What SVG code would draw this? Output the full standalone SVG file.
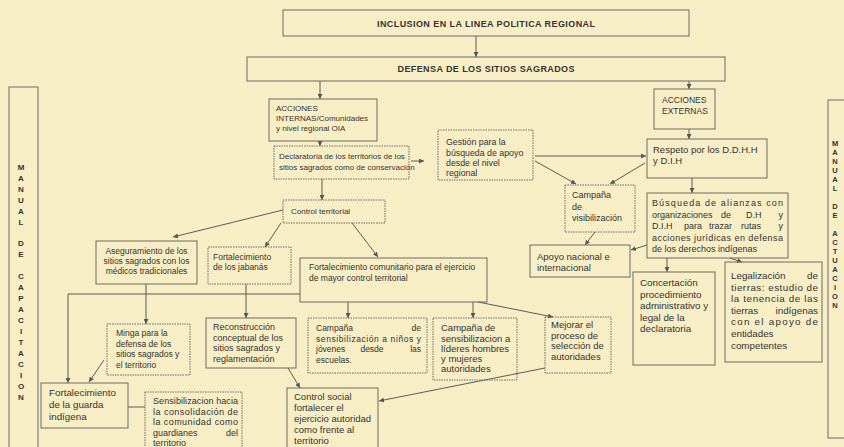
<svg xmlns="http://www.w3.org/2000/svg" width="844" height="447" viewBox="0 0 844 447">
<defs>
<style>
.t{font-family:"Liberation Sans",Arial,sans-serif;fill:#333}
.tb{font-weight:bold}
.s75{font-size:7.5px}.s8{font-size:8px}.s85{font-size:8.5px}.s88{font-size:8.8px}.s9{font-size:9px}.s95{font-size:9.5px}.s98{font-size:9.8px}
.bx{fill:none;stroke:#6a6a6a;stroke-width:1}
.dot{stroke-dasharray:1.5 1}
.c{fill:none;stroke:#5a5a5a;stroke-width:1}
.m{text-anchor:middle}
</style>
<marker id="ah" viewBox="0 0 8 8" refX="8" refY="4" markerWidth="5" markerHeight="5" orient="auto" markerUnits="userSpaceOnUse"><path d="M0,0 L8,4 L0,8 z" fill="#555"/></marker>
</defs>
<rect x="0" y="0" width="844" height="447" fill="#F8EEC6"/>

<g id="bar-left">
<rect class="bx" x="9" y="87" width="29" height="370"/>
<g class="t tb s8 m">
<text x="21" y="170">M</text><text x="21" y="181">A</text><text x="21" y="192">N</text><text x="21" y="203">U</text><text x="21" y="214">A</text><text x="21" y="225">L</text>
<text x="21" y="246">D</text><text x="21" y="257">E</text>
<text x="21" y="279">C</text><text x="21" y="290">A</text><text x="21" y="301">P</text><text x="21" y="312">A</text><text x="21" y="323">C</text><text x="21" y="334">I</text><text x="21" y="345">T</text><text x="21" y="356">A</text><text x="21" y="367">C</text><text x="21" y="378">I</text><text x="21" y="389">O</text><text x="21" y="400">N</text>
</g>
</g>

<g id="bar-right">
<rect class="bx" x="828" y="100" width="30" height="338"/>
<g class="t tb s75 m">
<text x="835" y="146">M</text><text x="835" y="155">A</text><text x="835" y="164">N</text><text x="835" y="173">U</text><text x="835" y="182">A</text><text x="835" y="191">L</text>
<text x="835" y="209">D</text><text x="835" y="218">E</text>
<text x="835" y="236">A</text><text x="835" y="245">C</text><text x="835" y="254">T</text><text x="835" y="263">U</text><text x="835" y="272">A</text><text x="835" y="281">C</text><text x="835" y="290">I</text><text x="835" y="299">O</text><text x="835" y="308">N</text>
</g>
</g>

<g id="connectors">
<line class="c" x1="476" y1="36" x2="476" y2="57" marker-end="url(#ah)"/>
<line class="c" x1="320" y1="81" x2="320" y2="99" marker-end="url(#ah)"/>
<line class="c" x1="689" y1="81" x2="689" y2="89" marker-end="url(#ah)"/>
<line class="c" x1="320" y1="141" x2="320" y2="146" marker-end="url(#ah)"/>
<line class="c" x1="411" y1="161" x2="424" y2="161" marker-end="url(#ah)"/>
<line class="c" x1="322" y1="179" x2="322" y2="200" marker-end="url(#ah)"/>
<line class="c" x1="689" y1="129" x2="689" y2="139" marker-end="url(#ah)"/>
<line class="c" x1="535" y1="156" x2="646" y2="156" marker-end="url(#ah)"/>
<line class="c" x1="535" y1="161" x2="576" y2="184" marker-end="url(#ah)"/>
<line class="c" x1="645" y1="163" x2="610" y2="184" marker-end="url(#ah)"/>
<line class="c" x1="692" y1="178" x2="692" y2="193" marker-end="url(#ah)"/>
<line class="c" x1="595" y1="232" x2="585" y2="245" marker-end="url(#ah)"/>
<line class="c" x1="647" y1="245" x2="631" y2="250" marker-end="url(#ah)"/>
<line class="c" x1="667" y1="258" x2="667" y2="272" marker-end="url(#ah)"/>
<line class="c" x1="730" y1="258" x2="742" y2="262" marker-end="url(#ah)"/>
<line class="c" x1="283" y1="210" x2="173" y2="237" marker-end="url(#ah)"/>
<line class="c" x1="281" y1="223" x2="265" y2="247" marker-end="url(#ah)"/>
<line class="c" x1="352" y1="223" x2="378" y2="257" marker-end="url(#ah)"/>
<line class="c" x1="146" y1="284" x2="146" y2="324" marker-end="url(#ah)"/>
<line class="c" x1="246" y1="284" x2="246" y2="318" marker-end="url(#ah)"/>
<polyline class="c" points="300,294 68,294 68,383" marker-end="url(#ah)"/>
<line class="c" x1="348" y1="302" x2="348" y2="318" marker-end="url(#ah)"/>
<line class="c" x1="473" y1="302" x2="473" y2="318" marker-end="url(#ah)"/>
<line class="c" x1="478" y1="302" x2="553" y2="317" marker-end="url(#ah)"/>
<line class="c" x1="104" y1="360" x2="89" y2="382" marker-end="url(#ah)"/>
<line class="c" x1="128" y1="407" x2="145" y2="407"/>
<line class="c" x1="288" y1="368" x2="300" y2="388" marker-end="url(#ah)"/>
<line class="c" x1="545" y1="368" x2="379" y2="401" marker-end="url(#ah)"/>
</g>

<g id="n-inclusion">
<rect class="bx" x="283" y="10" width="406" height="26"/>
<text class="t tb s9 m" x="486" y="26.5" textLength="218" lengthAdjust="spacing">INCLUSION EN LA LINEA POLITICA REGIONAL</text>
</g>
<g id="n-defensa">
<rect class="bx" x="247" y="57" width="478" height="24"/>
<text class="t tb s9 m" x="486" y="72" textLength="177" lengthAdjust="spacing">DEFENSA DE LOS SITIOS SAGRADOS</text>
</g>
<g id="n-internas">
<rect class="bx" x="269" y="99" width="108" height="42"/>
<text class="t s8" x="276" y="111">ACCIONES</text>
<text class="t s8" x="276" y="121">INTERNAS/Comunidades</text>
<text class="t s8" x="276" y="131">y nivel regional OIA</text>
</g>
<g id="n-externas">
<rect class="bx" x="654" y="89" width="61" height="40"/>
<text class="t s85" x="662" y="103">ACCIONES</text>
<text class="t s85" x="662" y="113.5">EXTERNAS</text>
</g>
<g id="n-respeto">
<rect class="bx" x="647" y="139" width="120" height="39"/>
<text class="t s95" x="653" y="153">Respeto por los D.D.H.H</text>
<text class="t s95" x="653" y="164">y D.I.H</text>
</g>
<g id="n-gestion">
<rect class="bx dot" x="438" y="130" width="95" height="50"/>
<text class="t s88" x="446" y="145">Gestión para la</text>
<text class="t s88" x="446" y="155.5">búsqueda de apoyo</text>
<text class="t s88" x="446" y="166">desde el nivel</text>
<text class="t s88" x="446" y="176">regional</text>
</g>
<g id="n-declaratoria">
<rect class="bx dot" x="274" y="146" width="135" height="33"/>
<text class="t s8" x="279" y="159">Declaratoria de los territorios de  los</text>
<text class="t s8" x="279" y="170">sitios sagrados como de conservación</text>
</g>
<g id="n-control">
<rect class="bx dot" x="283" y="200" width="102" height="23"/>
<text class="t s8" x="291" y="214">Control territorial</text>
</g>
<g id="n-visibilizacion">
<rect class="bx dot" x="565" y="185" width="70" height="47"/>
<text class="t s9" x="572" y="198">Campaña</text>
<text class="t s9" x="572" y="209.5">de</text>
<text class="t s9" x="572" y="221">visibilización</text>
</g>
<g id="n-busqueda">
<rect class="bx" x="647" y="193" width="141" height="65"/>
<text class="t s9" x="652" y="206" textLength="131" lengthAdjust="spacing">Búsqueda de alianzas con</text>
<text class="t s9" y="217.5"><tspan x="652">organizaciones</tspan><tspan x="721">de</tspan><tspan x="746">D.H</tspan><tspan x="783" text-anchor="end">y</tspan></text>
<text class="t s9" y="229"><tspan x="652">D.I.H</tspan><tspan x="684">para</tspan><tspan x="709">trazar</tspan><tspan x="741">rutas</tspan><tspan x="783" text-anchor="end">y</tspan></text>
<text class="t s9" x="652" y="240.5" textLength="131" lengthAdjust="spacing">acciones jurídicas en defensa</text>
<text class="t s9" x="652" y="252">de los derechos indígenas</text>
</g>
<g id="n-apoyo">
<rect class="bx" x="530" y="245" width="100" height="32"/>
<text class="t s95" x="537" y="260">Apoyo nacional  e</text>
<text class="t s95" x="537" y="271">internacional</text>
</g>
<g id="n-concertacion">
<rect class="bx" x="633" y="272" width="82" height="93"/>
<text class="t s98" x="640" y="286">Concertación</text>
<text class="t s98" x="640" y="297.5">procedimiento</text>
<text class="t s98" x="640" y="309">administrativo y</text>
<text class="t s98" x="640" y="320.5">legal de la</text>
<text class="t s98" x="640" y="332">declaratoria</text>
</g>
<g id="n-legalizacion">
<rect class="bx" x="725" y="262" width="97" height="100"/>
<text class="t s98" y="279"><tspan x="731">Legalización</tspan><tspan x="818" text-anchor="end">de</tspan></text>
<text class="t s98" x="731" y="290.5" textLength="87" lengthAdjust="spacing">tierras: estudio de</text>
<text class="t s98" x="731" y="302" textLength="87" lengthAdjust="spacing">la tenencia de las</text>
<text class="t s98" y="313.5"><tspan x="731">tierras</tspan><tspan x="818" text-anchor="end">indígenas</tspan></text>
<text class="t s98" x="731" y="325" textLength="87" lengthAdjust="spacing">con el apoyo de</text>
<text class="t s98" x="731" y="336.5">entidades</text>
<text class="t s98" x="731" y="349">competentes</text>
</g>
<g id="n-aseguramiento">
<rect class="bx" x="96" y="241" width="101" height="43"/>
<text class="t s85 m" x="146.5" y="254">Aseguramiento de los</text>
<text class="t s85 m" x="146.5" y="264">sitios sagrados con los</text>
<text class="t s85 m" x="146.5" y="274">médicos tradicionales</text>
</g>
<g id="n-jabanas">
<rect class="bx dot" x="208" y="247" width="83" height="37"/>
<text class="t s85" x="213" y="260">Fortalecimiento</text>
<text class="t s85" x="213" y="270">de los jabanás</text>
</g>
<g id="n-comunitario">
<rect class="bx" x="300" y="258" width="187" height="44"/>
<text class="t s85" x="309" y="270">Fortalecimiento comunitario para el ejercicio</text>
<text class="t s85" x="309" y="281">de mayor control territorial</text>
</g>
<g id="n-minga">
<rect class="bx dot" x="107" y="324" width="83" height="51"/>
<text class="t s85" x="116" y="336">Minga para la</text>
<text class="t s85" x="116" y="346.5">defensa de los</text>
<text class="t s85" x="116" y="357">sitios sagrados y</text>
<text class="t s85" x="116" y="367.5">el territorio</text>
</g>
<g id="n-reconstruccion">
<rect class="bx" x="206" y="318" width="90" height="50"/>
<text class="t s9" x="213" y="330">Reconstrucción</text>
<text class="t s9" x="213" y="340.5">conceptual de los</text>
<text class="t s9" x="213" y="351">sitios sagrados y</text>
<text class="t s9" x="213" y="361.5">reglamentación</text>
</g>
<g id="n-ninos">
<rect class="bx dot" x="308" y="318" width="119" height="55"/>
<text class="t s85" y="331"><tspan x="316">Campaña</tspan><tspan x="421" text-anchor="end">de</tspan></text>
<text class="t s85" x="316" y="341.5" textLength="105" lengthAdjust="spacing">sensibilización a niños y</text>
<text class="t s85" y="352"><tspan x="316">jóvenes</tspan><tspan x="372" text-anchor="middle">desde</tspan><tspan x="421" text-anchor="end">las</tspan></text>
<text class="t s85" x="316" y="362.5">escuelas.</text>
</g>
<g id="n-lideres">
<rect class="bx dot" x="433" y="318" width="84" height="62"/>
<text class="t s95" x="441" y="331">Campaña de</text>
<text class="t s95" x="441" y="341.5">sensibilizacion a</text>
<text class="t s95" x="441" y="352">líderes hombres</text>
<text class="t s95" x="441" y="362">y mujeres</text>
<text class="t s95" x="441" y="372">autoridades</text>
</g>
<g id="n-mejorar">
<rect class="bx dot" x="545" y="317" width="66" height="56"/>
<text class="t s95" x="551" y="328">Mejorar el</text>
<text class="t s95" x="551" y="338.5">proceso de</text>
<text class="t s95" x="551" y="349">selección de</text>
<text class="t s95" x="551" y="359.5">autoridades</text>
</g>
<g id="n-guarda">
<rect class="bx" x="41" y="383" width="87" height="45"/>
<text class="t s98" x="49" y="396">Fortalecimiento</text>
<text class="t s98" x="49" y="408">de la guarda</text>
<text class="t s98" x="49" y="420">indígena</text>
</g>
<g id="n-sensibilizacion">
<rect class="bx dot" x="145" y="392" width="97" height="60"/>
<text class="t s9" x="153" y="404" textLength="85" lengthAdjust="spacing">Sensibilizacion hacia</text>
<text class="t s9" x="153" y="414.5" textLength="85" lengthAdjust="spacing">la  consolidación de</text>
<text class="t s9" x="153" y="425" textLength="85" lengthAdjust="spacing">la comunidad como</text>
<text class="t s9" y="435.5"><tspan x="153">guardianes</tspan><tspan x="238" text-anchor="end">del</tspan></text>
<text class="t s9" x="153" y="446">territorio</text>
</g>
<g id="n-social">
<rect class="bx" x="287" y="388" width="91" height="64"/>
<text class="t s95" x="294" y="400">Control social</text>
<text class="t s95" x="294" y="411">fortalecer el</text>
<text class="t s95" x="294" y="422">ejercicio autoridad</text>
<text class="t s95" x="294" y="433">como frente al</text>
<text class="t s95" x="294" y="444">territorio</text>
</g>
</svg>
